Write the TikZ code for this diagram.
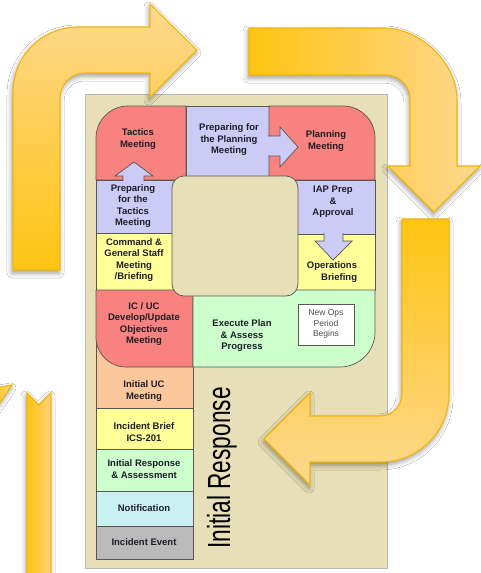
\documentclass[tikz,border=0pt]{standalone}
\usepackage{fontspec}
\setmainfont{Liberation Sans}
\usetikzlibrary{shadows.blur}
\definecolor{panel}{HTML}{E6DFB7}
\definecolor{cred}{HTML}{F7827F}
\definecolor{clav}{HTML}{CBCBF6}
\definecolor{cyel}{HTML}{FFFF99}
\definecolor{cgrn}{HTML}{CCFFCC}
\definecolor{cpeach}{HTML}{FAC89A}
\definecolor{ccyan}{HTML}{C9F1F1}
\definecolor{cgrey}{HTML}{BABABA}
\definecolor{cellline}{HTML}{5A5650}
\definecolor{arrline}{HTML}{F2B50F}
\definecolor{arrdark}{HTML}{FFC412}
\definecolor{arrlight}{HTML}{FDD88F}
\definecolor{txt}{HTML}{1E1E28}
\begin{document}
\begin{tikzpicture}[x=1pt,y=-1pt,
 cell/.style={draw=cellline, line width=0.7pt},
 lbl/.style={font=\fontsize{9.5}{11.5}\selectfont\bfseries, text=txt, align=center, inner sep=0pt},
 bigarrow/.style={draw=arrline, line width=1.1pt, line join=miter,
   blur shadow={shadow xshift=-1pt, shadow yshift=-3pt, shadow blur radius=5pt, shadow opacity=40}},
 ]
\useasboundingbox (0,0) rectangle (481,573);
\fill[white] (0,0) rectangle (481,573);
\clip (0,0) rectangle (481,573);

% panel
\draw[fill=panel, draw=gray!55, line width=0.6pt] (85,94) rectangle (387,568);

% cells
\filldraw[cell, fill=cpeach] (96,330) rectangle (193,408);
\filldraw[cell, fill=cred] (186,180) -- (96,180) -- (96,138) .. controls (96,120.3) and (110.3,106) .. (128,106) -- (186,106) -- cycle;
\filldraw[cell, fill=clav] (186,106) rectangle (269,180);
\filldraw[cell, fill=cred] (269,106) -- (343,106) .. controls (360.7,106) and (375,120.3) .. (375,138) -- (375,180) -- (269,180) -- cycle;
\filldraw[cell, fill=clav] (96,180) rectangle (180,233);
\filldraw[cell, fill=cyel] (96,233) rectangle (180,290);
\filldraw[cell, fill=clav] (290,180) rectangle (375,234);
\filldraw[cell, fill=cyel] (290,234) rectangle (375,290);
\filldraw[cell, fill=cred] (96,290) -- (193,290) -- (193,367) -- (126,367) .. controls (109.4,367) and (96,353.6) .. (96,337) -- cycle;
\filldraw[cell, fill=cgrn] (193,290) -- (375,290) -- (375,332) .. controls (375,351.3) and (359.3,367) .. (340,367) -- (193,367) -- cycle;
\filldraw[cell, fill=panel, rounded corners=12pt] (172,176) rectangle (298,296);
\filldraw[cell, fill=cyel] (96,408) rectangle (193,449);
\filldraw[cell, fill=cgrn] (96,449) rectangle (193,491);
\filldraw[cell, fill=ccyan] (96,491) rectangle (193,526);
\filldraw[cell, fill=cgrey] (96,526) rectangle (193,559);

% small block arrows
\filldraw[cell, fill=clav] (123,181) -- (123,176) -- (115,176) -- (134,162) -- (153,176) -- (144,176) -- (144,181);
\filldraw[cell, fill=clav] (268,136) -- (280,136) -- (280,127) -- (298,147) -- (280,167) -- (280,156) -- (268,156);
\filldraw[cell, fill=clav] (324,233) -- (324,241) -- (315,241) -- (333,260) -- (352,241) -- (343,241) -- (343,233);

% new ops box
\filldraw[cell, fill=white] (298,304) rectangle (354,345);

% labels
\node[lbl] (tac) at (138,139) {Tactics\\Meeting};
\node[lbl] (ppm) at (229,140) {Preparing for\\the Planning\\Meeting};
\node[lbl] (pm) at (326,141) {Planning\\Meeting};
\node[lbl] (ptm) at (133,206) {Preparing\\for the\\Tactics\\Meeting};
\node[lbl] (cgs) at (134,260) {Command \&\\General Staff\\Meeting\\/Briefing};
\node[lbl] (iap) at (333,202) {IAP Prep\\\&\\Approval};
\node[lbl, align=right] (ob) at (332,272) {Operations\\Briefing};
\node[lbl] (ic) at (144,324) {IC / UC\\Develop/Update\\Objectives\\Meeting};
\node[lbl] (ex) at (242,336) {Execute Plan\\\& Assess\\Progress};
\node[lbl, font=\fontsize{8.5}{10.5}\selectfont, text=black!70] (nops) at (326,324) {New Ops\\Period\\Begins};
\node[lbl] (iuc) at (144,391) {Initial UC\\Meeting};
\node[lbl] (ib) at (144,432) {Incident Brief\\ICS-201};
\node[lbl] (irs) at (144,469) {Initial Response\\\& Assessment};
\node[lbl] (nt) at (144,508) {Notification};
\node[lbl] (ie) at (144,542) {Incident Event};
\node[rotate=90, anchor=base west, inner sep=0pt, font=\fontsize{32}{32}\selectfont, text=black] (irbig) at (230,549) {\scalebox{0.71}[1]{Initial Response}};

% big arrows
\shade[bigarrow, top color=arrlight, bottom color=arrdark]
 (13,270) -- (13,92) .. controls (13,56.1) and (42.1,27) .. (78,27) -- (150,27) -- (150,4) -- (197,50) -- (150,97) -- (150,73) -- (85,73) .. controls (71.2,73) and (60,84.2) .. (60,98) -- (60,270) -- cycle;
\shade[bigarrow, left color=arrdark, right color=arrlight]
 (249,28) -- (385,28) .. controls (417.3,28) and (457,60.3) .. (457,100) -- (457,166) -- (480,166) -- (434,212) -- (388,166) -- (410,166) -- (410,99) .. controls (410,85.75) and (399.25,75) .. (386,75) -- (249,75) -- cycle;
\shade[bigarrow, top color=arrdark, bottom color=arrlight]
 (402,219) -- (449,219) -- (449,394) .. controls (449,431.5) and (418.5,462) .. (381,462) -- (310,462) -- (310,485) -- (264,439) -- (310,393) -- (310,416) -- (380,416) .. controls (392.1,416) and (402,406.1) .. (402,394) -- cycle;
\shade[bigarrow, left color=arrdark, right color=arrlight!80!arrdark]
 (27,393) -- (39,405) -- (51,393) -- (51,590) -- (27,590) -- cycle;
\shade[bigarrow, left color=arrdark, right color=arrlight]
 (-5,388) -- (12,385) -- (-5,410) -- cycle;
\end{tikzpicture}
\end{document}
